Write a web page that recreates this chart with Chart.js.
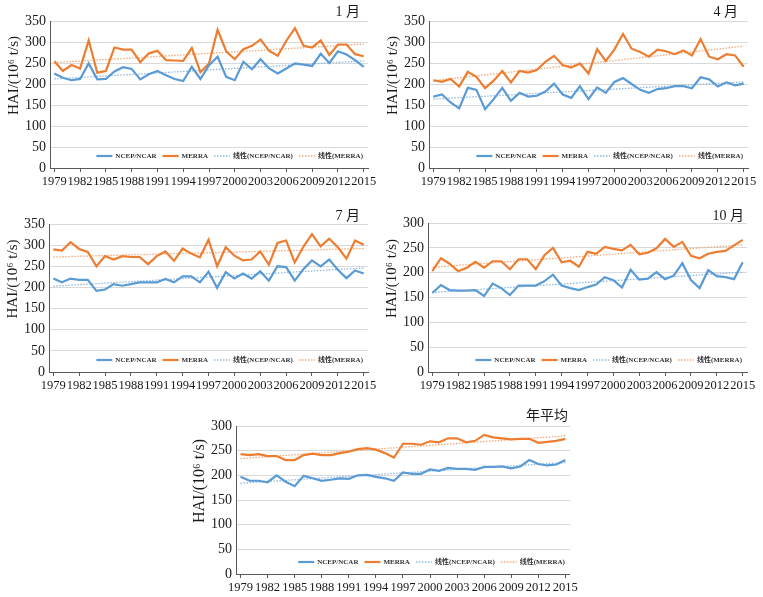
<!DOCTYPE html>
<html>
<head>
<meta charset="utf-8">
<script src="https://cdn.jsdelivr.net/npm/chart.js@4.4.1/dist/chart.umd.min.js"></script>
<style>
body { margin: 0; background: #fff; width: 763px; height: 597px; position: relative; overflow: hidden; }
.caja { position: absolute; }
</style>
</head>
<body>
<div class="caja" style="left:0px;top:0px"><canvas id="c1" width="380" height="200"></canvas></div>
<div class="caja" style="left:380px;top:0px"><canvas id="c2" width="383" height="200"></canvas></div>
<div class="caja" style="left:0px;top:200px"><canvas id="c3" width="380" height="200"></canvas></div>
<div class="caja" style="left:380px;top:200px"><canvas id="c4" width="383" height="200"></canvas></div>
<div class="caja" style="left:190px;top:400px"><canvas id="c5" width="390" height="197"></canvas></div>
<script>
const years = ['1979','1980','1981','1982','1983','1984','1985','1986','1987','1988','1989','1990','1991','1992','1993','1994','1995','1996','1997','1998','1999','2000','2001','2002','2003','2004','2005','2006','2007','2008','2009','2010','2011','2012','2013','2014','2015'];
const tickYears = ['1979','1982','1985','1988','1991','1994','1997','2000','2003','2006','2009','2012','2015'];
const seriesNames = ['NCEP/NCAR', 'MERRA', '线性(NCEP/NCAR)', '线性(MERRA)'];
const yTitle = 'HAI/(10⁶ t/s)';

// 1月
const janNcep = [225,215,209,212,249,211,212,230,240,236,211,223,231,221,212,207,241,212,245,265,217,209,253,235,259,237,225,237,249,246,243,272,250,278,270,257,241];
const janMerra = [254,231,245,237,304,227,231,287,282,282,252,273,279,257,256,255,286,228,249,329,278,259,283,291,306,279,267,303,333,291,287,304,269,294,294,271,266];
const janNcepTrend = [212, 255];
const janMerraTrend = [251, 295];

// 4月
const aprNcep = [170,175,156,142,191,186,140,164,191,160,179,170,172,182,201,175,167,195,164,192,179,205,214,200,186,179,188,190,195,195,190,216,211,194,204,197,201];
const aprMerra = [209,205,212,194,229,217,190,208,231,204,231,227,233,253,267,245,239,249,225,283,255,282,319,284,276,265,282,278,271,280,268,307,265,259,271,268,241];
const aprNcepTrend = [164, 205];
const aprMerraTrend = [208, 290];

// 7月
const julNcep = [221,212,221,218,218,192,195,208,204,208,212,212,212,220,212,226,226,212,237,199,236,221,233,221,238,216,250,248,216,243,264,250,266,242,222,240,233];
const julMerra = [290,287,307,291,284,250,274,266,274,272,272,255,274,285,263,292,280,271,313,250,295,275,264,266,285,254,305,311,259,296,326,297,315,295,268,311,301];
const julNcepTrend = [203, 246];
const julMerraTrend = [272, 292];

// 10月
const octNcep = [159,175,165,164,164,165,153,178,169,155,174,174,174,183,196,174,169,165,171,176,191,185,170,206,186,188,201,187,194,219,185,169,205,193,191,187,221];
const octMerra = [203,229,218,203,210,222,210,223,223,207,227,227,207,235,250,221,224,212,242,238,252,248,245,256,237,240,249,268,252,262,234,229,238,242,244,255,266];
const octNcepTrend = [160, 201];
const octMerraTrend = [211, 256];

// 年平均
const annNcep = [197,189,189,186,200,187,178,199,194,189,191,194,193,200,201,197,194,189,206,203,203,212,209,215,213,213,211,217,217,218,214,218,231,223,220,222,231];
const annMerra = [243,241,243,239,239,231,231,241,244,241,241,245,248,253,255,252,245,236,264,264,262,269,267,275,275,267,270,282,277,275,273,274,274,266,268,270,274];
const annNcepTrend = [184, 226];
const annMerraTrend = [234, 280];

const fuente = '"Liberation Serif", "Times New Roman", "Noto Sans CJK SC", serif';

// titulo del panel, titulo del eje y y leyenda dentro del area
const textoPanel = {
    id: 'textoPanel',
    afterDraw(chart, args, opts) {
        const ctx = chart.ctx;
        const a = chart.chartArea;
        ctx.save();
        ctx.font = '14px ' + fuente;
        ctx.fillStyle = '#1a1a1a';
        ctx.textAlign = 'right';
        ctx.textBaseline = 'middle';
        ctx.fillText(opts.titulo, a.right - opts.dx, a.top - opts.dy);

        // titulo del eje y, algo por encima del centro como en el original
        ctx.save();
        ctx.translate(a.left - 36, (a.top + a.bottom) / 2 - 19);
        ctx.rotate(-Math.PI / 2);
        ctx.textAlign = 'center';
        ctx.font = opts.tamY + 'px ' + fuente;
        ctx.fillText(yTitle, 0, 0);
        ctx.restore();

        ctx.font = 'bold 7px ' + fuente;
        const ds = chart.data.datasets;
        const anchos = ds.map(d => 16 + 3 + ctx.measureText(d.label).width);
        const gap = 6;
        let x = a.right - 5 - anchos.reduce((s, w) => s + w, 0) - gap * (ds.length - 1);
        const y = a.bottom - 12;
        ds.forEach((d, i) => {
            ctx.beginPath();
            ctx.strokeStyle = d.borderColor;
            ctx.lineWidth = d.borderWidth;
            ctx.setLineDash(d.borderDash || []);
            ctx.moveTo(x, y);
            ctx.lineTo(x + 16, y);
            ctx.stroke();
            ctx.setLineDash([]);
            ctx.textAlign = 'left';
            ctx.fillStyle = '#333';
            ctx.fillText(d.label, x + 19, y);
            x += anchos[i] + gap;
        });
        ctx.restore();
    }
};

function crearPanel(id, caja, area, titulo, dx, dy, tamY, yMax, ncep, merra, ncepTrend, merraTrend) {
    const ctx = document.getElementById(id);
    const last = years.length - 1;

    new Chart(ctx, {
        type: 'line',
        data: {
            labels: years,
            datasets: [
                { label: seriesNames[0], data: ncep, borderColor: '#5B9BD5', borderWidth: 2.2, pointRadius: 0, tension: 0 },
                { label: seriesNames[1], data: merra, borderColor: '#ED7D31', borderWidth: 2.2, pointRadius: 0, tension: 0 },
                { label: seriesNames[2], data: [{ x: years[0], y: ncepTrend[0] }, { x: years[last], y: ncepTrend[1] }],
                  borderColor: '#8DB8E2', borderWidth: 1.3, borderDash: [1.5, 1.5], pointRadius: 0 },
                { label: seriesNames[3], data: [{ x: years[0], y: merraTrend[0] }, { x: years[last], y: merraTrend[1] }],
                  borderColor: '#F2A877', borderWidth: 1.3, borderDash: [1.5, 1.5], pointRadius: 0 }
            ]
        },
        options: {
            animation: false,
            responsive: false,
            layout: {
                padding: { top: area[1], right: caja[0] - area[2], left: 0, bottom: 0 }
            },
            scales: {
                x: {
                    offset: true,
                    grid: {
                        drawOnChartArea: false,
                        offset: false,
                        tickLength: 4,
                        color: c => (c.index % 3 === 0 ? '#595959' : 'rgba(0,0,0,0)')
                    },
                    border: { color: '#595959', width: 1 },
                    ticks: {
                        autoSkip: false,
                        maxRotation: 0,
                        padding: 2,
                        color: '#1a1a1a',
                        font: { family: fuente, size: 12.5 },
                        callback: function (v, i) { return tickYears.includes(years[i]) ? years[i] : ''; }
                    },
                    afterFit: s => { s.height = caja[1] - area[3]; }
                },
                y: {
                    min: 0,
                    max: yMax,
                    ticks: { stepSize: 50, padding: 4, color: '#1a1a1a', font: { family: fuente, size: 14 } },
                    grid: { color: '#d9d9d9', drawTicks: false },
                    border: { color: '#595959', width: 1 },
                    afterFit: s => { s.width = area[0]; }
                }
            },
            plugins: {
                legend: { display: false },
                tooltip: { enabled: false },
                textoPanel: { titulo: titulo, dx: dx, dy: dy, tamY: tamY }
            }
        },
        plugins: [textoPanel]
    });
}

// caja: [ancho, alto]; area: [izq, arriba, der, abajo] relativo al canvas
crearPanel('c1', [380, 200], [50, 21, 368, 168], '1 月', 8, 9, 15, 350, janNcep, janMerra, janNcepTrend, janMerraTrend);
crearPanel('c2', [383, 200], [49, 21, 368, 168], '4 月', 10, 9, 15, 350, aprNcep, aprMerra, aprNcepTrend, aprMerraTrend);
crearPanel('c3', [380, 200], [49, 24, 368, 172], '7 月', 8, 8, 15, 350, julNcep, julMerra, julNcepTrend, julMerraTrend);
crearPanel('c4', [383, 200], [48, 23, 367, 172], '10 月', 3, 7, 15, 300, octNcep, octMerra, octNcepTrend, octMerraTrend);
crearPanel('c5', [390, 197], [46, 26, 380, 174], '年平均', 2, 10, 16, 300, annNcep, annMerra, annNcepTrend, annMerraTrend);
</script>
</body>
</html>
